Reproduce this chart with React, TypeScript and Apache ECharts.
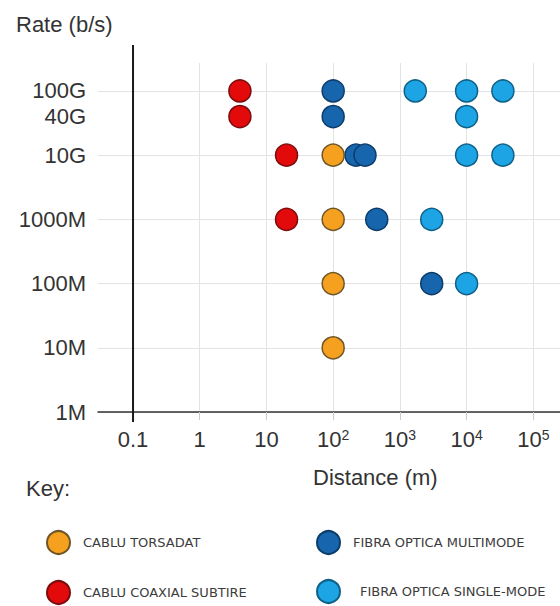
import React, { useEffect, useRef } from 'react';
import * as echarts from 'echarts';

// ---- data ----
const rateLabels = ['1M', '10M', '100M', '1000M', '10G', '40G', '100G'];
const rateValues = [1e6, 1e7, 1e8, 1e9, 1e10, 4e10, 1e11];
const rateGridValues = [1e6, 1e7, 1e8, 1e9, 1e10, 1e11];
const distanceTicks = [0.1, 1, 10, 100, 1000, 10000, 100000];
const distanceTickLabels = ['0.1', '1', '10', '10^2', '10^3', '10^4', '10^5'];

const seriesNames = [
  'CABLU TORSADAT',
  'CABLU COAXIAL SUBTIRE',
  'FIBRA OPTICA MULTIMODE',
  'FIBRA OPTICA SINGLE-MODE',
];

const torsadatDistance = [100, 100, 100, 100];
const torsadatRate = [1e10, 1e9, 1e8, 1e7];

const coaxialDistance = [4, 4, 20, 20];
const coaxialRate = [1e11, 4e10, 1e10, 1e9];

const multimodeDistance = [100, 100, 220, 300, 450, 3000];
const multimodeRate = [1e11, 4e10, 1e10, 1e10, 1e9, 1e8];

const singlemodeDistance = [1700, 10000, 35000, 10000, 10000, 35000, 3000, 10000];
const singlemodeRate = [1e11, 1e11, 1e11, 4e10, 1e10, 1e10, 1e9, 1e8];

const pairs = (xs: number[], ys: number[]) => xs.map((x, i) => [x, ys[i]]);

const near = (a: number, b: number) => Math.abs(a - b) <= Math.abs(b) * 1e-6;

const FONT = '"Liberation Sans", Arial, sans-serif';
const TEXT = '#333';

export default function App() {
  const ref = useRef<HTMLDivElement>(null);

  useEffect(() => {
    const chart = echarts.init(ref.current!, null, { renderer: 'svg' });

    const mkSeries = (
      name: string,
      data: number[][],
      color: string,
      border: string
    ) => ({
      name,
      type: 'scatter',
      data,
      symbol: 'circle',
      symbolSize: 22,
      itemStyle: { color, borderColor: border, borderWidth: 1.5, opacity: 1 },
      emphasis: { disabled: true },
    });

    const mkLegend = (name: string, left: number, top: number, textPad: number) => ({
      data: [name],
      orient: 'horizontal',
      left,
      top,
      padding: 0,
      itemWidth: 23,
      itemHeight: 23,
      icon: 'circle',
      selectedMode: false,
      textStyle: {
        fontSize: 13,
        color: '#3c3c3c',
        fontFamily: '"DejaVu Sans", Verdana, sans-serif',
        padding: [0, 0, 0, textPad],
      },
    });

    const option: any = {
      animation: false,
      textStyle: { fontFamily: FONT },
      title: [
        {
          text: 'Rate (b/s)',
          left: 16,
          top: 13,
          padding: 0,
          textStyle: { fontSize: 22, fontWeight: 'normal', color: TEXT, fontFamily: FONT },
        },
        {
          text: 'Distance (m)',
          left: 313,
          top: 466,
          padding: 0,
          textStyle: { fontSize: 22, fontWeight: 'normal', color: TEXT, fontFamily: FONT },
        },
        {
          text: 'Key:',
          left: 26,
          top: 477,
          padding: 0,
          textStyle: { fontSize: 22, fontWeight: 'normal', color: TEXT, fontFamily: FONT },
        },
      ],
      grid: {
        left: 98,
        right: 0,
        top: 63,
        bottom: 194,
        containLabel: false,
        outerBoundsMode: 'none',
      },
      xAxis: {
        type: 'log',
        logBase: 10,
        min: Math.pow(10, -1.525),
        max: Math.pow(10, 5.4),
        axisLine: { show: true, lineStyle: { color: '#333', width: 1.5 } },
        axisTick: {
          show: true,
          length: 8,
          customValues: distanceTicks,
          lineStyle: { color: '#ccc' },
        },
        splitLine: { show: true, lineStyle: { color: '#e3e3e3', width: 1 } },
        axisLabel: {
          customValues: distanceTicks,
          margin: 16,
          fontSize: 22,
          color: TEXT,
          fontFamily: FONT,
          formatter: (v: number) => {
            const i = distanceTicks.findIndex((t) => near(v, t));
            if (i < 0) return '';
            const lab = distanceTickLabels[i];
            const k = lab.indexOf('^');
            if (k < 0) return lab;
            return lab.slice(0, k) + '{sup|' + lab.slice(k + 1) + '}';
          },
          rich: {
            sup: { fontSize: 14, verticalAlign: 'top', color: TEXT, fontFamily: FONT },
          },
        },
      },
      yAxis: {
        type: 'log',
        logBase: 10,
        min: 1e6,
        max: Math.pow(10, 11.436),
        axisLine: { show: false },
        axisTick: { show: false, customValues: rateGridValues },
        splitLine: { show: true, lineStyle: { color: '#e3e3e3', width: 1 } },
        axisLabel: {
          customValues: rateValues,
          margin: 12,
          fontSize: 22,
          color: TEXT,
          fontFamily: FONT,
          formatter: (v: number) => {
            const i = rateValues.findIndex((t) => near(v, t));
            return i < 0 ? '' : rateLabels[i];
          },
        },
      },
      legend: [
        mkLegend(seriesNames[0], 46, 530, 8),
        mkLegend(seriesNames[1], 46, 580, 8),
        mkLegend(seriesNames[2], 316, 530, 8),
        mkLegend(seriesNames[3], 316, 579, 15),
      ],
      series: [
        mkSeries(seriesNames[2], pairs(multimodeDistance, multimodeRate), '#1766ad', '#0c3c6a'),
        mkSeries(seriesNames[3], pairs(singlemodeDistance, singlemodeRate), '#1ca4e4', '#0f6088'),
        mkSeries(seriesNames[1], pairs(coaxialDistance, coaxialRate), '#e30a0c', '#7a0d0d'),
        mkSeries(seriesNames[0], pairs(torsadatDistance, torsadatRate), '#f5a11f', '#6e5628'),
      ],
    };

    chart.setOption(option);

    const px = chart.convertToPixel({ xAxisIndex: 0 }, distanceTicks[0]) as number;
    chart.setOption({
      graphic: [
        {
          type: 'line',
          shape: { x1: px, y1: 45, x2: px, y2: 422 },
          style: { stroke: '#1a1a1a', lineWidth: 2 },
          z: 10,
        },
      ],
    });

    return () => chart.dispose();
  }, []);

  return (
    <div
      ref={ref}
      style={{ position: 'absolute', left: 0, top: 0, width: 560, height: 606 }}
    />
  );
}
